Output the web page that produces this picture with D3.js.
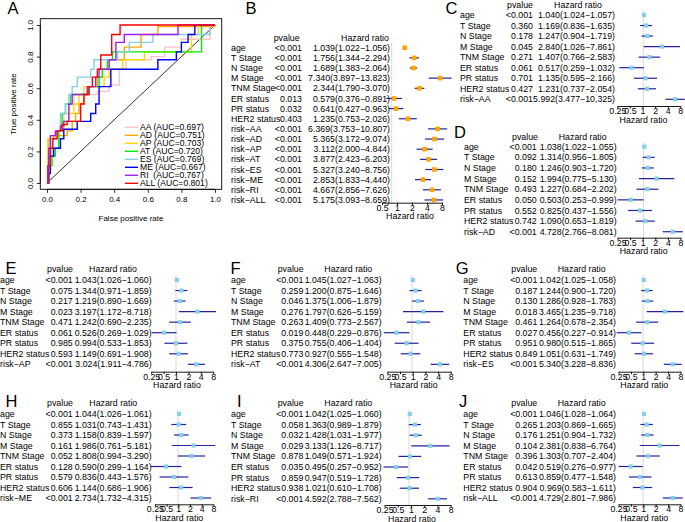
<!DOCTYPE html>
<html><head><meta charset="utf-8">
<script src="https://cdn.jsdelivr.net/npm/d3@7"></script>
<style>
body{margin:0;background:#fff}
svg{display:block;font-family:"Liberation Sans",Arial,Helvetica,sans-serif}
text{white-space:pre}
</style></head><body>
<svg id="fig" width="685" height="522"></svg>
<script>
// ---------------- ROC data (panel A) ----------------
const rocModels = ["AA","AD","AP","AT","ES","ME","RI","ALL"];
const rocAUC = [0.697,0.751,0.703,0.720,0.769,0.667,0.767,0.801];
const rocColors = ["#FFC0CB","#FFA500","#FFD700","#00EE00","#87CEEB","#0000FF","#A020F0","#FF0000"];
const rocAA = [[0,0],[0.005,0],[0.005,0.17],[0.02,0.17],[0.02,0.29],[0.05,0.29],[0.05,0.33],[0.08,0.33],[0.08,0.39],[0.10,0.39],[0.10,0.44],[0.13,0.44],[0.13,0.50],[0.16,0.50],[0.16,0.56],[0.30,0.56],[0.30,0.58],[0.37,0.58],[0.37,0.62],[0.43,0.62],[0.43,0.72],[0.47,0.72],[0.47,0.78],[0.62,0.78],[0.62,0.80],[0.70,0.80],[0.70,0.86],[0.80,0.86],[0.80,0.91],[0.97,0.91],[0.97,1],[1,1]];
const rocAD = [[0,0],[0.01,0],[0.01,0.28],[0.04,0.28],[0.04,0.30],[0.12,0.30],[0.12,0.33],[0.15,0.33],[0.15,0.39],[0.17,0.39],[0.17,0.44],[0.19,0.44],[0.19,0.50],[0.22,0.50],[0.22,0.56],[0.24,0.56],[0.24,0.61],[0.30,0.61],[0.30,0.67],[0.33,0.67],[0.33,0.72],[0.36,0.72],[0.36,0.78],[0.46,0.78],[0.46,0.86],[0.56,0.86],[0.56,0.94],[0.66,0.94],[0.66,0.99],[1,0.99],[1,1]];
const rocAP = [[0,0],[0.005,0],[0.005,0.28],[0.02,0.28],[0.02,0.30],[0.06,0.30],[0.06,0.33],[0.10,0.33],[0.10,0.39],[0.13,0.39],[0.13,0.44],[0.16,0.44],[0.16,0.50],[0.19,0.50],[0.19,0.56],[0.22,0.56],[0.22,0.61],[0.34,0.61],[0.34,0.67],[0.37,0.67],[0.37,0.72],[0.45,0.72],[0.45,0.78],[0.58,0.78],[0.58,0.83],[0.86,0.83],[0.86,0.94],[0.90,0.94],[0.90,1],[1,1]];
const rocAT = [[0,0],[0.01,0],[0.01,0.11],[0.03,0.11],[0.03,0.17],[0.05,0.17],[0.05,0.22],[0.07,0.22],[0.07,0.33],[0.09,0.33],[0.09,0.44],[0.11,0.44],[0.11,0.50],[0.14,0.50],[0.14,0.56],[0.25,0.56],[0.25,0.61],[0.31,0.61],[0.31,0.67],[0.33,0.67],[0.33,0.72],[0.36,0.72],[0.36,0.78],[0.39,0.78],[0.39,0.83],[0.92,0.83],[0.92,1],[1,1]];
const rocES = [[0,0],[0.01,0],[0.01,0.17],[0.03,0.17],[0.03,0.28],[0.06,0.28],[0.06,0.33],[0.08,0.33],[0.08,0.44],[0.11,0.44],[0.11,0.50],[0.13,0.50],[0.13,0.56],[0.15,0.56],[0.15,0.61],[0.18,0.61],[0.18,0.67],[0.26,0.67],[0.26,0.72],[0.28,0.72],[0.28,0.78],[0.42,0.78],[0.42,0.83],[0.49,0.83],[0.49,0.89],[0.63,0.89],[0.63,0.94],[0.97,0.94],[0.97,1],[1,1]];
const rocME = [[0,0],[0.01,0],[0.01,0.06],[0.02,0.06],[0.02,0.17],[0.04,0.17],[0.04,0.22],[0.08,0.22],[0.08,0.28],[0.10,0.28],[0.10,0.34],[0.18,0.34],[0.18,0.39],[0.26,0.39],[0.26,0.44],[0.29,0.44],[0.29,0.50],[0.31,0.50],[0.31,0.61],[0.38,0.61],[0.38,0.72],[0.66,0.72],[0.66,0.78],[0.77,0.78],[0.77,0.83],[0.80,0.83],[0.80,0.89],[0.84,0.89],[0.84,0.94],[0.88,0.94],[0.88,1],[1,1]];
const rocRI = [[0,0],[0.01,0],[0.01,0.22],[0.02,0.22],[0.02,0.30],[0.05,0.30],[0.05,0.33],[0.08,0.33],[0.08,0.36],[0.10,0.36],[0.10,0.39],[0.13,0.39],[0.13,0.50],[0.15,0.50],[0.15,0.56],[0.24,0.56],[0.24,0.61],[0.29,0.61],[0.29,0.67],[0.31,0.67],[0.31,0.72],[0.37,0.72],[0.37,0.78],[0.41,0.78],[0.41,0.89],[0.46,0.89],[0.46,0.94],[0.78,0.94],[0.78,1],[1,1]];
const rocALL = [[0,0],[0.005,0],[0.005,0.11],[0.02,0.11],[0.02,0.22],[0.035,0.22],[0.035,0.28],[0.06,0.28],[0.06,0.33],[0.09,0.33],[0.09,0.37],[0.12,0.37],[0.12,0.39],[0.20,0.39],[0.20,0.50],[0.22,0.50],[0.22,0.56],[0.25,0.56],[0.25,0.61],[0.27,0.61],[0.27,0.67],[0.30,0.67],[0.30,0.72],[0.32,0.72],[0.32,0.81],[0.385,0.81],[0.385,0.94],[0.435,0.94],[0.435,1],[1,1]];
const rocCurves = [rocAA,rocAD,rocAP,rocAT,rocES,rocME,rocRI,rocALL];
const rocTicks = [0,0.2,0.4,0.6,0.8,1.0];

// ---------------- Cox regression data ----------------
const covariates = ["age","T Stage","N Stage","M Stage","TNM Stage","ER status","PR status","HER2 status"];
// [pvalue, HR, lower, upper]
const statsB = [
 ["<0.001",1.039,1.022,1.056],["<0.001",1.756,1.344,2.294],["<0.001",1.689,1.383,2.064],["<0.001",7.340,3.897,13.823],
 ["<0.001",2.344,1.790,3.070],["0.013",0.579,0.376,0.891],["0.032",0.641,0.427,0.963],["0.403",1.235,0.753,2.026],
 ["<0.001",6.369,3.753,10.807],["<0.001",5.365,3.172,9.074],["<0.001",3.112,2.000,4.844],["<0.001",3.877,2.423,6.203],
 ["<0.001",5.327,3.240,8.756],["<0.001",2.853,1.833,4.440],["<0.001",4.667,2.856,7.626],["<0.001",5.175,3.093,8.659]];
const statsC = [["<0.001",1.040,1.024,1.057],["0.360",1.169,0.836,1.635],["0.178",1.247,0.904,1.719],["0.045",2.840,1.026,7.861],["0.271",1.407,0.766,2.583],["0.061",0.517,0.259,1.032],["0.701",1.135,0.595,2.166],["0.427",1.231,0.737,2.054],["<0.001",5.992,3.477,10.325,"10,325"]];
const statsD = [["<0.001",1.038,1.022,1.055],["0.092",1.314,0.956,1.805],["0.180",1.246,0.903,1.720],["0.152",1.994,0.775,5.130],["0.493",1.227,0.684,2.202],["0.050",0.503,0.253,0.999],["0.552",0.825,0.437,1.556],["0.742",1.090,0.653,1.819],["<0.001",4.728,2.766,8.081]];
const statsE = [["<0.001",1.043,1.026,1.060],["0.075",1.344,0.971,1.859],["0.217",1.219,0.890,1.669],["0.023",3.197,1.172,8.718],["0.471",1.242,0.690,2.235],["0.061",0.526,0.269,1.029],["0.985",0.994,0.533,1.853],["0.593",1.149,0.691,1.908],["<0.001",3.024,1.911,4.786]];
const statsF = [["<0.001",1.045,1.027,1.063],["0.259",1.200,0.875,1.646],["0.046",1.375,1.006,1.879],["0.276",1.797,0.626,5.159],["0.263",1.409,0.773,2.567],["0.019",0.448,0.229,0.876],["0.375",0.755,0.406,1.404],["0.773",0.927,0.555,1.548],["<0.001",4.306,2.647,7.005]];
const statsG = [["<0.001",1.042,1.025,1.058],["0.187",1.244,0.900,1.720],["0.130",1.286,0.928,1.783],["0.018",3.465,1.235,9.718],["0.461",1.264,0.678,2.354],["0.027",0.456,0.227,0.914],["0.951",0.980,0.515,1.865],["0.849",1.051,0.631,1.749],["<0.001",5.340,3.228,8.836]];
const statsH = [["<0.001",1.044,1.026,1.061],["0.855",1.031,0.743,1.431],["0.373",1.158,0.839,1.597],["0.161",1.986,0.761,5.181],["0.052",1.808,0.994,3.290],["0.128",0.590,0.299,1.164],["0.579",0.836,0.443,1.576],["0.606",1.144,0.686,1.906],["<0.001",2.734,1.732,4.315]];
const statsI = [["<0.001",1.042,1.025,1.060],["0.058",1.363,0.989,1.879],["0.032",1.428,1.031,1.977],["0.029",3.133,1.126,8.717],["0.878",1.049,0.571,1.924],["0.035",0.495,0.257,0.952],["0.859",0.947,0.519,1.728],["0.938",1.021,0.610,1.708],["<0.001",4.592,2.788,7.562]];
const statsJ = [["<0.001",1.046,1.028,1.064],["0.265",1.203,0.869,1.665],["0.176",1.251,0.904,1.732],["0.104",2.381,0.838,6.764],["0.396",1.303,0.707,2.404],["0.042",0.519,0.276,0.977],["0.613",0.859,0.477,1.548],["0.904",0.969,0.583,1.611],["<0.001",4.729,2.801,7.986]];
const ticksB = [0.5,1,2,4,8];
const ticksSmall = [0.25,0.5,1,2,4,8];

// ---------------- layout (positions only) ----------------
const smallPanels = [
 {id:"C",model:"AA",stats:statsC,lx:445.5,ly:14,lab:460,p:533,hr:615,pH:520,hrH:578,head:5,row0:15,step:10.54,axisY:106,mk:[643.3,12.3],ak:[642.5,12.6]},
 {id:"D",model:"AD",stats:statsD,lx:454,ly:138,lab:464,p:536.7,hr:616.7,pH:525,hrH:582.7,head:136.7,row0:146.7,step:10.63,axisY:237.7,mk:[643.6,13],ak:[642.7,12.6]},
 {id:"E",model:"AP",stats:statsE,lx:5.5,ly:273.5,lab:0,p:72.7,hr:151.7,pH:60,hrH:113,head:269.3,row0:280,step:10.54,axisY:371.7,mk:[176,12.8],ak:[176,12.4]},
 {id:"F",model:"AT",stats:statsF,lx:230.5,ly:273.5,lab:231,p:303.3,hr:381.7,pH:290.7,hrH:348.3,head:269.3,row0:280,step:10.54,axisY:371.7,mk:[412,13.27],ak:[412.7,12.7]},
 {id:"G",model:"ES",stats:statsG,lx:455.7,ly:273.5,lab:463.3,p:537.3,hr:616,pH:524.3,hrH:581.7,head:269.3,row0:280,step:10.54,axisY:371.7,mk:[643,12.3],ak:[643.3,12.4]},
 {id:"H",model:"ME",stats:statsH,lx:5.5,ly:407,lab:0,p:72.7,hr:151.7,pH:60,hrH:113.3,head:403.3,row0:414,step:10.5,axisY:504.3,mk:[178,15.7],ak:[178.3,11.7]},
 {id:"I",model:"RI",stats:statsI,lx:237,ly:407,lab:231,p:303.3,hr:381.7,pH:290.7,hrH:348.3,head:403.3,row0:414,step:10.6,axisY:505,mk:[409,13],ak:[411,13.2]},
 {id:"J",model:"ALL",stats:statsJ,lx:459,ly:407,lab:463.3,p:537.3,hr:616,pH:524.3,hrH:581.7,head:403.3,row0:414,step:10.5,axisY:504.3,mk:[643.1,13.2],ak:[643.3,12.4]}
];
const layoutB = {id:"B",lx:245.5,ly:14,lab:231,p:302,hr:390,pH:286.7,hrH:365,head:38,row0:47.7,step:10.15,axisY:202.7,mk:[404,12.57],ak:[397,15],refX:391.7,titleX:410};

const svg = d3.select("#fig");
const FS = 8.8;
const ciColor = "#22229e";
const fmt3 = d3.format(".3f");
const MINUS = "\u2212";

// ---------------- Panel A: ROC ----------------
(function(){
  const x = d3.scaleLinear().domain([0,1]).range([47,215]);
  const y = d3.scaleLinear().domain([0,1]).range([183,25]);
  const g = svg.append("g");
  g.append("text").attr("x",7.5).attr("y",14).attr("font-size",16.5).text("A");
  g.append("rect").attr("x",x(-0.04)).attr("y",y(1.04)).attr("width",x(1.04)-x(-0.04)).attr("height",y(-0.04)-y(1.04))
    .attr("fill","none").attr("stroke","#000").attr("stroke-width",0.9);
  const line = d3.line().x(d=>x(d[0])).y(d=>y(d[1]));
  g.append("path").attr("d",line([[0,0],[1,1]])).attr("stroke","#000").attr("stroke-width",0.8).attr("fill","none");
  rocCurves.forEach((c,i)=>{
    g.append("path").attr("d",line(c)).attr("fill","none").attr("stroke",rocColors[i]).attr("stroke-width",1.4);
  });
  const xa = d3.axisBottom(x).tickValues(rocTicks).tickFormat(d3.format(".1f")).tickSize(3.5).tickSizeOuter(0);
  const gx = g.append("g").attr("transform",`translate(0,${y(-0.04)})`).call(xa);
  gx.select(".domain").attr("d",`M${x(0)},0H${x(1)}`).attr("stroke-width",0.8);
  gx.selectAll(".tick line").attr("stroke-width",0.8);
  gx.selectAll("text").attr("font-size",8).attr("font-family",null).attr("y",12.5).attr("dy",null).attr("fill","#000");
  const ya = d3.axisLeft(y).tickValues(rocTicks).tickFormat(d3.format(".1f")).tickSize(3.5).tickSizeOuter(0);
  const gy = g.append("g").attr("transform",`translate(${x(-0.04)},0)`).call(ya);
  gy.select(".domain").attr("d",`M0,${y(0)}V${y(1)}`).attr("stroke-width",0.8);
  gy.selectAll(".tick line").attr("stroke-width",0.8);
  gy.selectAll("text").attr("font-size",8).attr("font-family",null).attr("x",0).attr("dy",null)
    .attr("text-anchor","middle").attr("transform","translate(-7.5,0) rotate(-90)").attr("fill","#000");
  g.append("text").attr("x",131).attr("y",221).attr("text-anchor","middle").attr("font-size",8).text("False positive rate");
  g.append("text").attr("transform",`translate(16,${(y(0)+y(1))/2}) rotate(-90)`).attr("text-anchor","middle").attr("font-size",8).text("True positive rate");
  // legend
  rocModels.forEach((m,i)=>{
    const ly = 127.3 + i*8.0;
    g.append("line").attr("x1",125).attr("x2",138).attr("y1",ly).attr("y2",ly).attr("stroke",rocColors[i]).attr("stroke-width",1.4);
    const name = m==="RI" ? m+"  " : m+" ";
    g.append("text").attr("x",140).attr("y",ly+3).attr("font-size",8.6).text(name+"(AUC="+fmt3(rocAUC[i])+")");
  });
})();

// ---------------- forest plot helper ----------------
function forest(L, labels, stats, markColor, boxSize, ticks){
  const g = svg.append("g");
  g.append("text").attr("x",L.lx).attr("y",L.ly).attr("font-size",16.5).text(L.id);
  const base = FS*0.35;
  g.append("text").attr("x",L.pH).attr("y",L.head+base).attr("text-anchor","middle").attr("font-size",FS).text("pvalue");
  g.append("text").attr("x",L.hrH).attr("y",L.head+base).attr("text-anchor","middle").attr("font-size",FS).text("Hazard ratio");
  const ry = i => L.row0 + i*L.step;
  const mx = d3.scaleLog().base(2).domain([1,2]).range([L.mk[0],L.mk[0]+L.mk[1]]);
  const a1 = d3.scaleLog().base(2).domain([1,2]).range([L.ak[0],L.ak[0]+L.ak[1]]);
  const tmin = ticks[0], tmax = ticks[ticks.length-1];
  const ax = d3.scaleLog().base(2).domain([tmin,tmax]).range([a1(tmin),a1(tmax)]);
  const refX = L.refX!==undefined ? L.refX : mx(1);
  g.append("line").attr("x1",refX).attr("x2",refX).attr("y1",ry(0)-5).attr("y2",L.axisY).attr("stroke","#d9d9d9").attr("stroke-width",1);
  stats.forEach((s,i)=>{
    const yy = ry(i);
    g.append("text").attr("x",L.lab).attr("y",yy+base).attr("font-size",FS).text(labels[i]);
    g.append("text").attr("x",L.p).attr("y",yy+base).attr("text-anchor","end").attr("font-size",FS).text(s[0]);
    const hiTxt = s[4] || fmt3(s[3]);
    g.append("text").attr("x",L.hr).attr("y",yy+base).attr("text-anchor","end").attr("font-size",FS)
      .text(fmt3(s[1])+"("+fmt3(s[2])+MINUS+hiTxt+")");
    g.append("line").attr("x1",mx(s[2])).attr("x2",mx(s[3])).attr("y1",yy).attr("y2",yy).attr("stroke",ciColor).attr("stroke-width",1.2);
    g.append("rect").attr("x",mx(s[1])-boxSize/2).attr("y",yy-boxSize/2).attr("width",boxSize).attr("height",boxSize).attr("fill",markColor);
  });
  const axis = d3.axisBottom(ax).tickValues(ticks).tickFormat(d=>String(d)).tickSize(2.5).tickSizeOuter(0);
  const ga = g.append("g").attr("transform",`translate(0,${L.axisY})`).call(axis);
  ga.select(".domain").attr("stroke-width",0.9);
  ga.selectAll(".tick line").attr("stroke-width",0.9);
  ga.selectAll("text").attr("font-size",FS).attr("font-family",null).attr("y",7.8).attr("dy",null).attr("fill","#000");
  const tx = L.titleX!==undefined ? L.titleX : ax(1)+1;
  g.append("text").attr("x",tx).attr("y",L.axisY+16.5).attr("text-anchor","middle").attr("font-size",FS).text("Hazard ratio");
}

// Panel B
const labelsB = covariates.concat(rocModels.map(m=>"risk"+MINUS+m));
forest(layoutB, labelsB, statsB, "#FFA500", 4.6, ticksB);
// Panels C-J
smallPanels.forEach(L=>{
  forest(L, covariates.concat(["risk"+MINUS+L.model]), L.stats, "#87CEEB", 4.2, ticksSmall);
});
</script>
</body></html>
